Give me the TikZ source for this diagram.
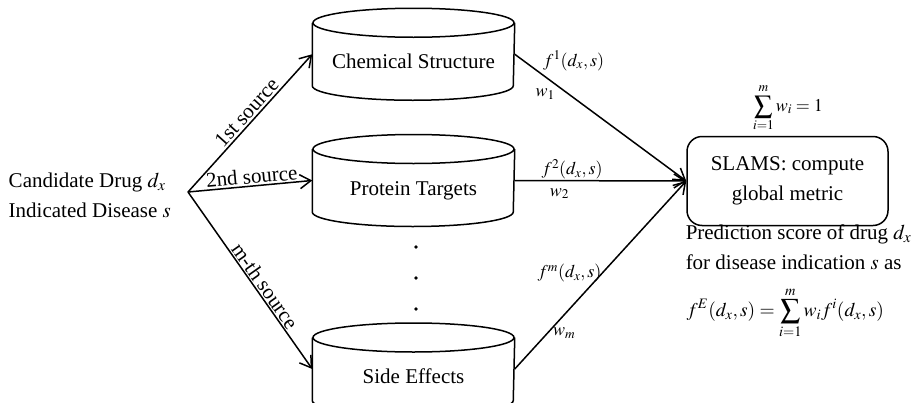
\documentclass[tikz,border=0pt]{standalone}
\usepackage{mathptmx}
\usepackage{fontspec}
\setmainfont{Liberation Serif}
\usetikzlibrary{arrows.meta, positioning}

\tikzset{
  db/.style={minimum width=201pt, minimum height=61.5pt, inner sep=0pt,
    text height=29pt, text depth=0pt},
  src/.style={sloped, above, inner sep=1.5pt},
  wt/.style={inner sep=2pt, font=\fontsize{18}{22}\selectfont},
}

\begin{document}
\begin{tikzpicture}[x=1pt, y=-1pt, >={Straight Barb[length=11pt,width=14pt]},
    line width=1.5pt, every node/.style={font=\fontsize{21}{30}\selectfont}]
  \useasboundingbox (0,0) rectangle (919,402);
  % input pair
  \node[align=left, anchor=west, inner sep=0pt] (input) at (8,195)
    {Candidate Drug $d_x$\\Indicated Disease $s$};
  \coordinate (fork) at (188,192);
  % data sources
  \node[db] (chem) at (413.5,54.25) {Chemical Structure};
  \node[db] (prot) at (413.5,180.5) {Protein Targets};
  \node[db] (side) at (413.5,369) {Side Effects};
  \foreach \n in {chem,prot,side}
    \draw (\n.north) ellipse[x radius=100.5, y radius=14.5]
      (\n.north west) -- (\n.south west)
      arc[start angle=180, end angle=0, x radius=100.5, y radius=14.5]
      -- (\n.north east);
  \foreach \y in {247,278,309}
    \fill (416,\y) circle (1.8);
  % combination
  \node[draw, rounded corners=15pt, minimum width=201pt, minimum height=89pt,
    align=center] (slams) at (787.5,181) {SLAMS: compute\\global metric};
  \node[font=\fontsize{18}{22}\selectfont] (norm) at (788,108)
    {$\displaystyle\sum_{i=1}^{m} w_i = 1$};
  \node[align=left, anchor=north west, inner sep=0pt] (pred) at (685,224)
    {Prediction score of drug $d_x$\\for disease indication $s$ as};
  \node[anchor=west, inner sep=0pt, font=\fontsize{19.5}{24}\selectfont] (score) at (686,313)
    {$\displaystyle f^{E}(d_x,s)=\sum_{i=1}^{m} w_i f^{i}(d_x,s)$};
  % sources
  \draw[->] (fork) -- (chem.west) node[src, pos=0.53, inner sep=2pt] {1st source};
  \draw[->] (fork) -- (prot.west) node[src, pos=0.52] {2nd source};
  \draw[->] (fork) -- (side.west) node[src, pos=0.56, inner sep=1pt] {m-th source};
  % weighted scores
  \draw[->] (chem.east) -- (slams.west)
    node[wt, pos=0.15, anchor=south west] {$f^1(d_x,s)$}
    node[wt, pos=0.25, anchor=north east] {$w_1$};
  \draw[->] (prot.east) -- (slams.west)
    node[wt, pos=0.15, anchor=south west, inner sep=0.5pt] {$f^2(d_x,s)$}
    node[wt, pos=0.16, anchor=north west, inner sep=7pt] {$w_2$};
  \draw[->] (side.east) -- (slams.west)
    node[wt, pos=0.51, anchor=east, inner sep=0pt] {$f^m(d_x,s)$}
    node[wt, pos=0.19, anchor=west, inner sep=5pt] {$w_m$};
\end{tikzpicture}
\end{document}
